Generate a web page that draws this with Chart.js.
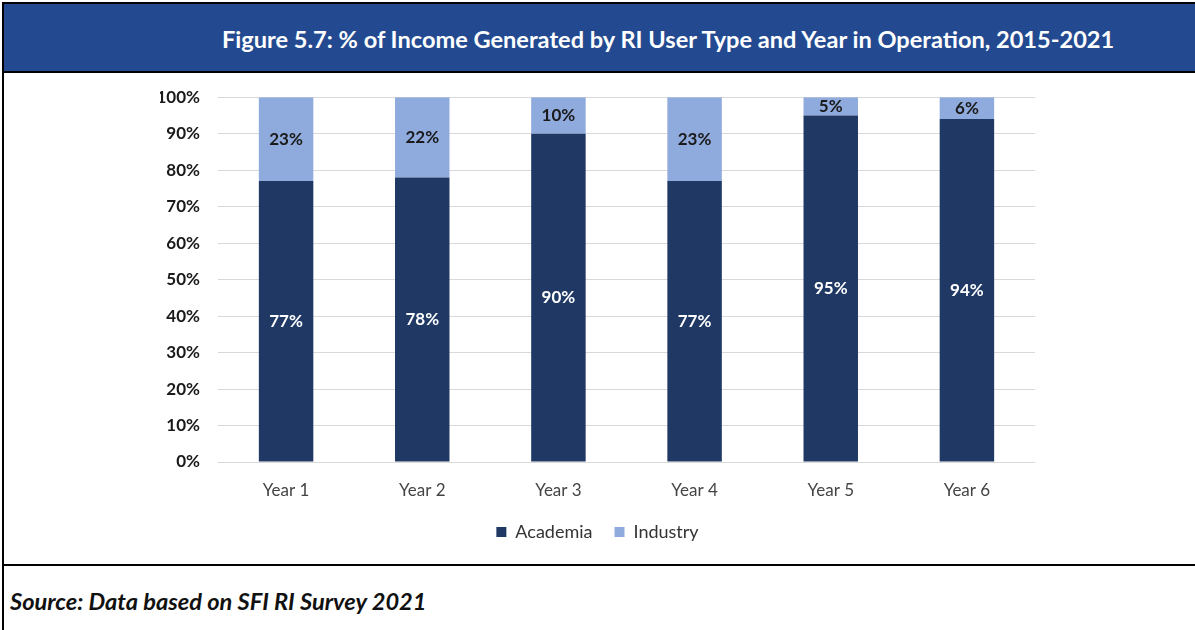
<!DOCTYPE html>
<html>
<head>
<meta charset="utf-8">
<script src="https://cdn.jsdelivr.net/npm/chart.js@4.4.1/dist/chart.umd.min.js"></script>
<style>
  body { margin: 0; background: #fff; }
  #page { position: relative; width: 1195px; height: 630px; overflow: hidden; font-family: Lato, sans-serif; }
  #header { position: absolute; left: 3px; top: 3px; width: 1192px; height: 68px; background: #234a90; border-bottom: 2px solid #000; }
  #title { position: absolute; left: 222px; top: 24px; color: #fff; font-weight: bold; font-size: 20px; white-space: nowrap; line-height: 30px; }
  #leftline { position: absolute; left: 2px; top: 2px; width: 2px; height: 628px; background: #000; }
  #topline { position: absolute; left: 2px; top: 2px; width: 1193px; height: 2px; background: #000; }
  #sepline { position: absolute; left: 2px; top: 564px; width: 1193px; height: 2px; background: #000; }
  #source { position: absolute; left: 10px; top: 589px; font-size: 16px; font-weight: bold; font-style: italic; color: #111; white-space: nowrap; line-height: 24px; }
  #chartbox { position: absolute; left: 0; top: 69px; width: 1195px; height: 494px; }
</style>
</head>
<body>
<div id="page">
  <div id="header"></div>
  <div id="title">Figure 5.7: % of Income Generated by RI User Type and Year in Operation, 2015-2021</div>
  <div id="topline"></div>
  <div id="leftline"></div>
  <div id="sepline"></div>
  <div id="chartbox"><canvas id="incomeChart"></canvas></div>
  <div id="source">Source: Data based on SFI RI Survey 2021</div>
</div>
<script>
// --- Data ---
const years = ['Year 1', 'Year 2', 'Year 3', 'Year 4', 'Year 5', 'Year 6'];
const academia = [77, 78, 90, 77, 95, 94];
const industry = [23, 22, 10, 23, 5, 6];
const yTicks = [0, 10, 20, 30, 40, 50, 60, 70, 80, 90, 100];

// fit texts to the widths they take in the figure
function fitWidth(el, w) {
    const size = parseFloat(getComputedStyle(el).fontSize);
    el.style.fontSize = (size * w / el.offsetWidth) + 'px';
}
fitWidth(document.getElementById('title'), 893);
fitWidth(document.getElementById('source'), 416);

const FONT = 'Lato, sans-serif';

// --- value labels inside bars ---
const barLabels = {
    id: 'barLabels',
    afterDatasetsDraw(chart) {
        const ctx = chart.ctx;
        ctx.save();
        ctx.font = 'bold 17px Lato, sans-serif';
        ctx.textAlign = 'center';
        ctx.textBaseline = 'middle';
        chart.data.datasets.forEach(function (ds, i) {
            chart.getDatasetMeta(i).data.forEach(function (bar, j) {
                const y = (bar.y + bar.base) / 2;
                ctx.fillStyle = i === 0 ? '#ffffff' : '#1a1a1a';
                ctx.fillText(ds.data[j] + '%', bar.x, y);
            });
        });
        ctx.restore();
    }
};

const ctx = document.getElementById('incomeChart').getContext('2d');
new Chart(ctx, {
    type: 'bar',
    data: {
        labels: years,
        datasets: [{
            label: 'Academia',
            data: academia,
            backgroundColor: '#1f3864',
            barPercentage: 0.8,
            categoryPercentage: 0.5
        }, {
            label: 'Industry',
            data: industry,
            backgroundColor: '#8faadc',
            barPercentage: 0.8,
            categoryPercentage: 0.5
        }]
    },
    options: {
        responsive: true,
        maintainAspectRatio: false,
        animation: false,
        layout: { padding: { top: 11, right: 160, bottom: 12, left: 160 } },
        plugins: {
            legend: {
                position: 'bottom',
                labels: {
                    boxWidth: 10, boxHeight: 10, padding: 22,
                    color: '#333', font: { family: FONT, size: 18 }
                }
            },
            tooltip: { enabled: false }
        },
        scales: {
            x: {
                stacked: true,
                grid: { display: false },
                border: { display: false },
                ticks: { color: '#444', padding: 10, font: { family: FONT, size: 17 } },
                afterFit: function (s) { s.height = 39; }
            },
            y: {
                stacked: true,
                min: 0, max: 100,
                afterBuildTicks: function (s) { s.ticks = yTicks.map(v => ({ value: v })); },
                grid: { color: '#d9d9d9', drawTicks: false },
                border: { display: false },
                ticks: {
                    color: '#1a1a1a', padding: 18,
                    font: { family: FONT, size: 17, weight: 'bold' },
                    callback: v => v + '%'
                },
                afterFit: function (s) { s.width = 58; }
            }
        }
    },
    plugins: [barLabels]
});
</script>
</body>
</html>
